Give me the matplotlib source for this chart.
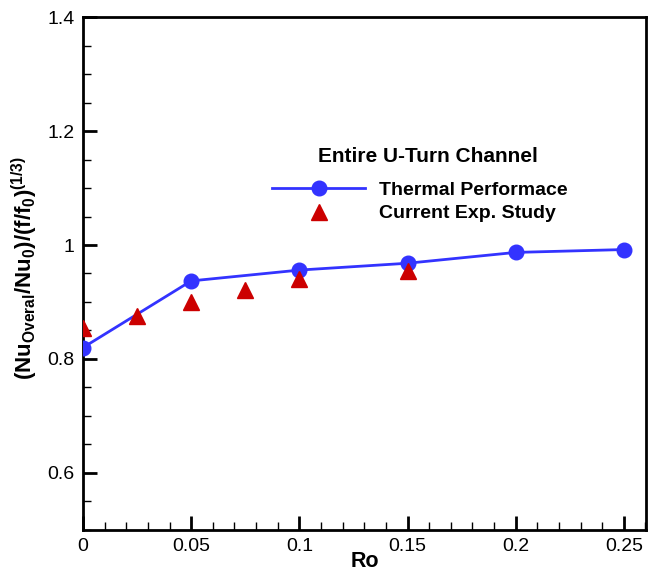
import matplotlib
matplotlib.use("Agg")
import matplotlib.pyplot as plt
from matplotlib.ticker import MultipleLocator, FixedLocator

plt.rcParams['font.family'] = ['Liberation Sans', 'DejaVu Sans']
plt.rcParams['mathtext.fontset'] = 'custom'
plt.rcParams['mathtext.rm'] = 'Liberation Sans'
plt.rcParams['mathtext.bf'] = 'Liberation Sans:bold'
plt.rcParams['mathtext.it'] = 'Liberation Sans:italic'

# Thermal performance (line + circles)
ro_thermal = [0.0, 0.05, 0.10, 0.15, 0.20, 0.25]
perf_thermal = [0.820, 0.937, 0.956, 0.968, 0.987, 0.992]

# Current experimental study (triangles)
ro_exp = [0.0, 0.025, 0.05, 0.075, 0.10, 0.15]
perf_exp = [0.854, 0.876, 0.900, 0.921, 0.940, 0.955]

x_ticks = [0, 0.05, 0.1, 0.15, 0.2, 0.25]
x_tick_labels = ['0', '0.05', '0.1', '0.15', '0.2', '0.25']
y_ticks = [0.6, 0.8, 1.0, 1.2, 1.4]
y_tick_labels = ['0.6', '0.8', '1', '1.2', '1.4']

fig = plt.figure(figsize=(6.5, 5.77), dpi=100)
ax = fig.add_axes([0.1277, 0.0815, 0.866, 0.889])

ax.plot(ro_thermal, perf_thermal, color='#3333ff', lw=2, marker='o',
        markersize=10.5, markerfacecolor='#3333ff', markeredgecolor='#3333ff',
        label='Thermal Performace', zorder=3)
ax.plot(ro_exp, perf_exp, ls='none', marker='^', markersize=11,
        color='#cc0000', label='Current Exp. Study', zorder=4)

ax.set_xlim(0, 0.2602)
ax.set_ylim(0.5, 1.4)
ax.xaxis.set_major_locator(FixedLocator(x_ticks))
ax.set_xticklabels(x_tick_labels)
ax.yaxis.set_major_locator(FixedLocator(y_ticks))
ax.set_yticklabels(y_tick_labels)
ax.xaxis.set_minor_locator(MultipleLocator(0.01))
ax.yaxis.set_minor_locator(MultipleLocator(0.05))

ax.tick_params(which='both', direction='in', top=False, right=False,
               labelsize=14, pad=6)
ax.tick_params(which='major', length=10, width=2)
ax.tick_params(which='minor', length=5.5, width=1)
for sp in ax.spines.values():
    sp.set_linewidth(2)

ax.set_xlabel('Ro', fontsize=15.5, fontweight='bold', labelpad=-3)
ax.set_ylabel(r'$\mathbf{(Nu_{Overal}/Nu_0)/(f/f_0)^{(1/3)}}$', fontsize=16)
ax.yaxis.set_label_coords(-0.077, 0.51)

fig.text(428 / 650, 1 - 157 / 577, 'Entire U-Turn Channel', fontsize=15,
         fontweight='bold', ha='center', va='center')

leg = ax.legend(loc='upper left', bbox_to_anchor=(272 / 650, 1 - 181 / 577),
                bbox_transform=fig.transFigure, frameon=False,
                prop={'weight': 'bold', 'size': 14}, handlelength=4.8,
                handletextpad=0.72, labelspacing=0.32, borderpad=0,
                borderaxespad=0)

fig.savefig('out.png', dpi=100)
